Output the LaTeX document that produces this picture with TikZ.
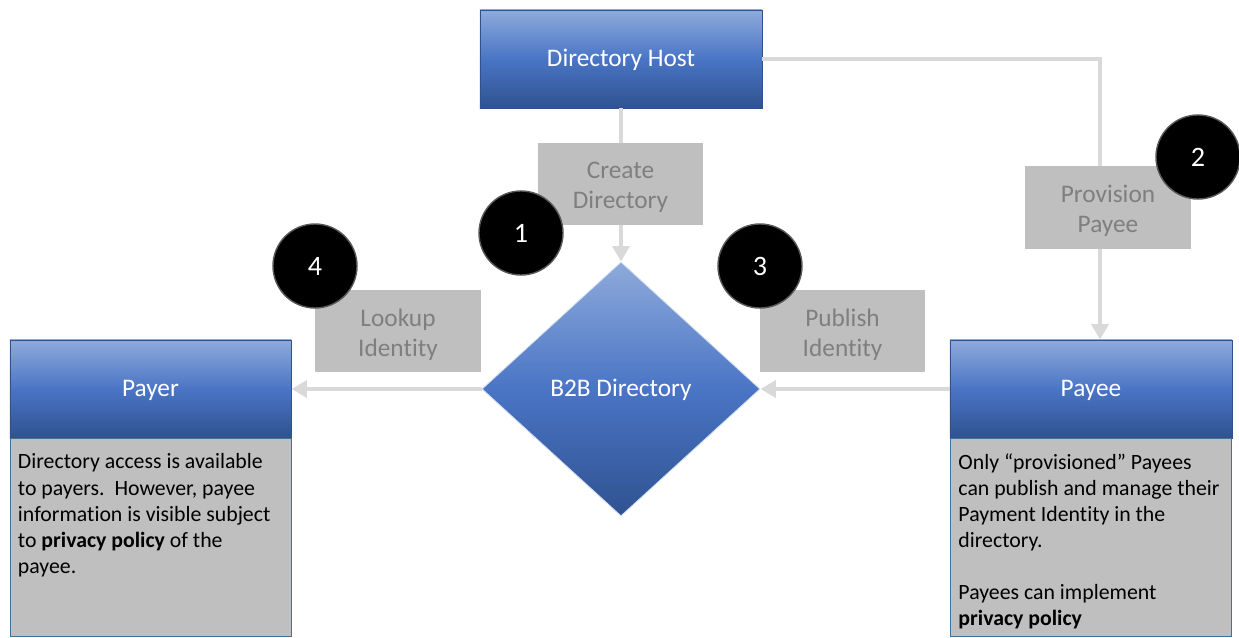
\documentclass[tikz,border=0pt]{standalone}
\usepackage{fontspec}
\setmainfont{Carlito}[Ligatures=NoCommon]
\usetikzlibrary{positioning,shapes.geometric,arrows.meta}

\definecolor{boxtop}{HTML}{8EAADB}
\definecolor{boxmid}{HTML}{4A75C5}
\definecolor{boxbot}{HTML}{2F5290}
\definecolor{boxline}{HTML}{2F528F}
\definecolor{noteline}{HTML}{41719C}
\definecolor{stepgray}{HTML}{BFBFBF}
\definecolor{steptext}{HTML}{7F7F7F}
\definecolor{linegray}{HTML}{D9D9D9}

% two-line caption for a step box, nudged down a little
\newcommand{\steptext}[2]{\raisebox{-7pt}[0pt][0pt]{\parbox{4cm}{\centering #1\\#2}}}

\begin{document}
\begin{tikzpicture}[x=0.025cm,y=-0.025cm,
  bluebox/.style={rectangle,draw=boxline,line width=0.6pt,top color=boxtop,bottom color=boxbot,middle color=boxmid,text=white,font=\fontsize{18}{21}\selectfont,text height=12pt,text depth=2pt,minimum width=7.05cm,minimum height=2.45cm},
  notebox/.style={rectangle,draw=noteline,line width=0.6pt,fill=stepgray,inner xsep=0.2cm,inner ysep=0.375cm,minimum width=7.025cm,font=\fontsize{15.5}{18.5}\selectfont},
  stepbox/.style={rectangle,fill=stepgray,text=steptext,inner sep=0pt,font=\fontsize{18}{21.3}\selectfont,minimum width=4.13cm,minimum height=2.05cm},
  badge/.style={circle,fill=black,draw=black!65,line width=1pt,minimum size=2.1cm,inner sep=0pt,text=white,font=\fontsize{20}{24}\selectfont},
  flow/.style={-{Triangle[width=12pt,length=11pt]},line width=3.5pt,draw=linegray,color=linegray},
]
\useasboundingbox (0,0) rectangle (1239,638);

% ==== main shapes ====
\node[bluebox] (host) at (621,59) {Directory Host};
\node[bluebox,diamond,aspect=1.1,inner sep=0pt,draw=boxtop!40!white,minimum width=6.95cm,minimum height=6.35cm] (dir) at (621,389) {B2B Directory};

\node[bluebox,minimum width=7.025cm] (payer) at (150.5,389) {Payer};
\node[notebox,below=0pt of payer] (payernote) {\parbox[t][4.2cm][t]{6.625cm}{\raggedright
  Directory access is available\\
  to payers.\ \ However, payee\\
  information is visible subject\\
  to \textbf{privacy policy} of the\\
  payee.}};

\node[bluebox,minimum width=7.05cm] (payee) at (1091,389) {Payee};
\node[notebox,below=0pt of payee] (payeenote) {\parbox[t][4.2cm][t]{6.625cm}{\raggedright
  Only “provisioned” Payees\\
  can publish and manage their\\
  Payment Identity in the\\
  directory.\\[18.5pt]
  Payees can implement\\
  \textbf{privacy policy}}};

% ==== connectors ====
\draw[flow] (host.south) -- (dir.north);
\draw[flow] (host.east) -| ([xshift=0.225cm]payee.north);
\draw[flow] (payee.west) -- (dir.east);
\draw[flow] (dir.west) -- (payer.east);

% ==== step labels ====
\node[stepbox] (create) at (620.5,184) {\steptext{Create}{Directory}};
\node[stepbox] (provision) at (1108,207.5) {\steptext{Provision}{Payee}};
\node[stepbox] (publish) at (842.5,331) {\steptext{Publish}{Identity}};
\node[stepbox] (lookup) at (398,331) {\steptext{Lookup}{Identity}};

% ==== step numbers ====
\node[badge] (n1) at (521,233) {1};
\node[badge] (n2) at (1198,157) {2};
\node[badge] (n3) at (760,266) {3};
\node[badge] (n4) at (315,266) {4};

\end{tikzpicture}
\end{document}
